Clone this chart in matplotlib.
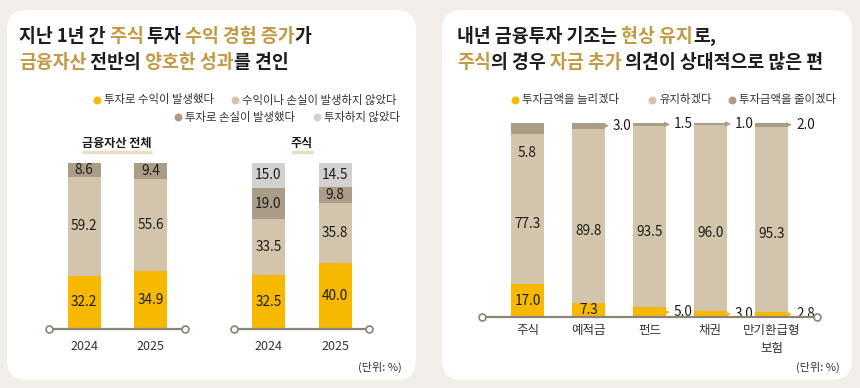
import numpy as np
import matplotlib.pyplot as plt
from matplotlib.patches import FancyBboxPatch

plt.rcParams['font.family'] = ['Noto Sans CJK KR', 'DejaVu Sans']
NUMFONT = ['Liberation Sans Narrow', 'Noto Sans CJK KR', 'DejaVu Sans']

# ---- data ----
years = ['2024', '2025']
all_profit = [32.2, 34.9]
all_none = [59.2, 55.6]
all_loss = [8.6, 9.4]

stk_profit = [32.5, 40.0]
stk_none = [33.5, 35.8]
stk_loss = [19.0, 9.8]
stk_noinv = [15.0, 14.5]

left_legend = ['투자로 수익이 발생했다', '수익이나 손실이 발생하지 않았다',
               '투자로 손실이 발생했다', '투자하지 않았다']

right_cats = ['주식', '예적금', '펀드', '채권', '만기환급형\n보험']
plan_up = [17.0, 7.3, 5.0, 3.0, 2.8]
plan_keep = [77.3, 89.8, 93.5, 96.0, 95.3]
plan_down = [5.8, 3.0, 1.5, 1.0, 2.0]
right_legend = ['투자금액을 늘리겠다', '유지하겠다', '투자금액을 줄이겠다']

# ---- style ----
YEL = '#f6b900'
BEI = '#d3c5ac'
TAU = '#ab9c87'
GRY = '#d2d1cf'
GOLD = '#c29a45'
INK = '#1c1c1c'
AXC = '#8a8379'
BG = '#f2efea'

W, H = 860, 388
fig = plt.figure(figsize=(W / 100, H / 100), dpi=100, facecolor=BG)
bg = fig.add_axes([0, 0, 1, 1])
bg.set_xlim(0, W)
bg.set_ylim(H, 0)
bg.axis('off')

for x0, x1 in [(7, 416), (442, 852)]:
    bg.add_patch(FancyBboxPatch((x0, 10), x1 - x0, 370,
                                boxstyle='round,pad=0,rounding_size=20',
                                fc='white', ec='none'))


def rich(x, y, parts, size=13.2):
    prev = None
    for s, c in parts:
        if prev is None:
            prev = bg.text(x, y, s, color=c, fontsize=size, fontweight='bold',
                           ha='left', va='center')
        else:
            prev = bg.annotate(s, xy=(1, 0), xycoords=prev, color=c, fontsize=size,
                               fontweight='bold', ha='left', va='bottom')


rich(19, 36, [('지난 1년 간', INK), (' 주식', GOLD), (' 투자', INK),
              (' 수익 경험 증가', GOLD), ('가', INK)])
rich(19, 62, [('금융자산', GOLD), (' 전반의', INK), (' 양호한 성과', GOLD),
              ('를 견인', INK)])
rich(457, 36, [('내년 금융투자 기조는', INK), (' 현상 유지', GOLD), ('로,', INK)])
rich(457, 62, [('주식', GOLD), ('의 경우', INK), (' 자금 추가', GOLD),
               (' 의견이 상대적으로 많은 편', INK)])


def legend_item(x, y, color, label):
    bg.scatter([x], [y], s=22, color=color, zorder=3)
    bg.text(x + 7, y, label, fontsize=8.2, color='#333333', ha='left', va='center')


legend_item(97, 100, YEL, left_legend[0])
legend_item(235, 100, BEI, left_legend[1])
legend_item(178, 117, TAU, left_legend[2])
legend_item(317, 117, GRY, left_legend[3])
legend_item(515, 100, YEL, right_legend[0])
legend_item(652, 100, BEI, right_legend[1])
legend_item(732, 100, TAU, right_legend[2])

# subtitles with highlight line
for cx, x0, x1, s in [(117, 82, 152, '금융자산 전체'), (302, 291, 313, '주식')]:
    bg.plot([x0, x1], [152, 152], color='#e6e0c6', lw=2.5, solid_capstyle='butt')
    bg.text(cx, 144, s, fontsize=8.7, fontweight='bold', color=INK, ha='center', va='center')

bg.text(402, 367, '(단위: %)', fontsize=8, color='#333333', ha='right', va='center')
bg.text(840, 367, '(단위: %)', fontsize=8, color='#333333', ha='right', va='center')


def make_ax(px0, px1, base, top, n, centers_off):
    ax = fig.add_axes([px0 / W, (H - base) / H, (px1 - px0) / W, (base - top) / H])
    ax.patch.set_alpha(0)
    for sp in ax.spines.values():
        sp.set_visible(False)
    ax.set_yticks([])
    ax.tick_params(length=0)
    ax.set_ylim(0, 100)
    ax.set_xlim(centers_off[0], n - 1 + centers_off[1])
    ax.plot([0, 1], [0, 0], transform=ax.transAxes, color=AXC, lw=1.6,
            clip_on=False, zorder=4)
    ax.plot([0, 1], [0, 0], transform=ax.transAxes, ls='none', marker='o', ms=5,
            mfc='white', mec=AXC, mew=1.2, clip_on=False, zorder=5)
    return ax


def stacked(ax, series, colors, width):
    x = np.arange(len(series[0]))
    bottom = np.zeros(len(x))
    for vals, c in zip(series, colors):
        ax.bar(x, vals, width, bottom=bottom, color=c, zorder=2)
        for xi, v, b in zip(x, vals, bottom):
            ax.text(xi, b + v / 2, f'{v:.1f}', ha='center', va='center',
                    fontsize=9.8, color=INK, family=NUMFONT)
        bottom = bottom + np.array(vals)
    return x


ax1 = make_ax(49, 185, 329, 163, 2, (-35 / 66.5, 34.5 / 66.5))
x = stacked(ax1, [all_profit, all_none, all_loss], [YEL, BEI, TAU], 33 / 66.5)
ax1.set_xticks(x, years, fontsize=9, color='#333333', family=NUMFONT)
ax1.tick_params(axis='x', pad=8)

ax2 = make_ax(234, 369, 329, 163, 2, (-34.5 / 66.5, 34 / 66.5))
x = stacked(ax2, [stk_profit, stk_none, stk_loss, stk_noinv], [YEL, BEI, TAU, GRY], 33 / 66.5)
ax2.set_xticks(x, years, fontsize=9, color='#333333', family=NUMFONT)
ax2.tick_params(axis='x', pad=8)

# right chart
ax3 = make_ax(482, 817, 317, 123, 5, (-45.5 / 61, 45.5 / 61))
bw = 33 / 61
x = np.arange(len(right_cats))
up = np.array(plan_up)
keep = np.array(plan_keep)
down = np.array(plan_down)
ax3.bar(x, up, bw, color=YEL, zorder=2)
ax3.bar(x, keep, bw, bottom=up, color=BEI, zorder=2)
ax3.bar(x, down, bw, bottom=up + keep, color=TAU, zorder=2)
kw = dict(fontsize=9.8, color=INK, family=NUMFONT)
arrow = '<|-,head_length=0.3,head_width=0.15'
for i in x:
    # bottom segment
    if up[i] >= 6:
        ax3.text(i, up[i] / 2, f'{up[i]:.1f}', ha='center', va='center', **kw)
    else:
        ax3.annotate(f'{up[i]:.1f}', xy=(i + bw / 2, up[i] / 2), xytext=(8, 0),
                     textcoords='offset pixels', ha='left', va='center',
                     arrowprops=dict(arrowstyle=arrow, color=YEL, lw=0.8,
                                     shrinkA=1, shrinkB=0), **kw)
    # middle
    ax3.annotate(f'{keep[i]:.1f}', xy=(i, up[i] + keep[i] / 2), xytext=(0, -15),
                 textcoords='offset pixels', ha='center', va='center', **kw)
    # top
    top_mid = up[i] + keep[i] + down[i] / 2
    if down[i] >= 5.5:
        ax3.annotate(f'{down[i]:.1f}', xy=(i, up[i] + keep[i]), xytext=(0, -19),
                     textcoords='offset pixels', ha='center', va='center', **kw)
    else:
        ax3.annotate(f'{down[i]:.1f}', xy=(i + bw / 2, top_mid), xytext=(8, 0),
                     textcoords='offset pixels', ha='left', va='center',
                     arrowprops=dict(arrowstyle=arrow, color=TAU, lw=0.8,
                                     shrinkA=1, shrinkB=0), **kw)
ax3.set_xticks(x, right_cats, fontsize=9, color='#333333', linespacing=1.5)
ax3.tick_params(axis='x', pad=5)
for lbl in ax3.get_xticklabels():
    lbl.set_verticalalignment('top')

fig.savefig('out.png', dpi=100, facecolor=BG)
